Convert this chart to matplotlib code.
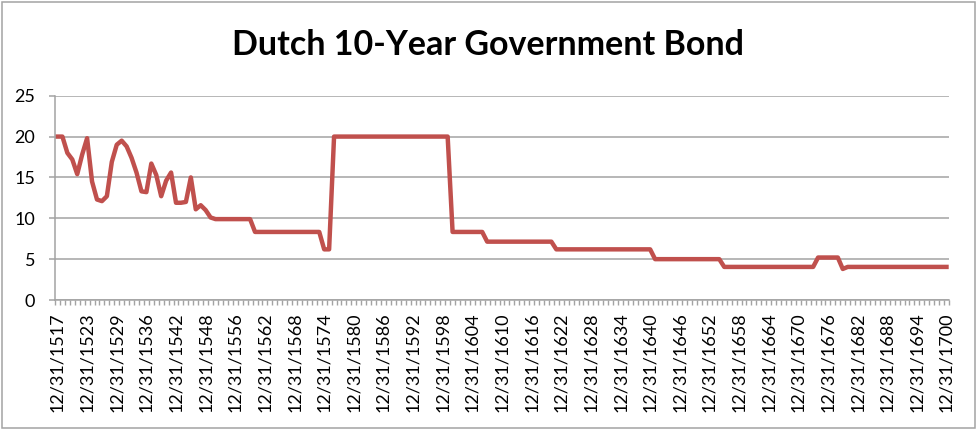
#!/usr/bin/env python3

import numpy as np
import matplotlib
matplotlib.use("Agg")
import matplotlib.pyplot as plt
from matplotlib.patches import Rectangle

## categories: year-end dates (a few early years are missing from the series)
years = (list(range(1517, 1530)) + list(range(1531, 1549))
         + [1549, 1551, 1552, 1554, 1555] + list(range(1556, 1701)))
dates = ["12/31/%d" % y for y in years]

## yield in percent, one value per date
yields = [
    20.0, 20.0, 18.0, 17.2, 15.4, 17.8, 19.8, 14.5, 12.3, 12.1,
    12.7, 16.9, 19.0, 19.5, 18.8, 17.4, 15.6, 13.3, 13.2, 16.7,
    15.3, 12.7, 14.6, 15.6, 11.9, 11.9, 12.0, 15.0, 11.1, 11.6,
    11.0, 10.1, 9.9, 9.9, 9.9, 9.9, 9.9, 9.9, 9.9, 9.9,
    8.33, 8.33, 8.33, 8.33, 8.33, 8.33, 8.33, 8.33, 8.33, 8.33,
    8.33, 8.33, 8.33, 8.33, 6.2, 6.2, 20.0, 20.0, 20.0, 20.0,
    20.0, 20.0, 20.0, 20.0, 20.0, 20.0, 20.0, 20.0, 20.0, 20.0,
    20.0, 20.0, 20.0, 20.0, 20.0, 20.0, 20.0, 20.0, 20.0, 20.0,
    8.33, 8.33, 8.33, 8.33, 8.33, 8.33, 8.33, 7.14, 7.14, 7.14,
    7.14, 7.14, 7.14, 7.14, 7.14, 7.14, 7.14, 7.14, 7.14, 7.14,
    7.14, 6.2, 6.2, 6.2, 6.2, 6.2, 6.2, 6.2, 6.2, 6.2,
    6.2, 6.2, 6.2, 6.2, 6.2, 6.2, 6.2, 6.2, 6.2, 6.2,
    6.2, 5.0, 5.0, 5.0, 5.0, 5.0, 5.0, 5.0, 5.0, 5.0,
    5.0, 5.0, 5.0, 5.0, 5.0, 4.05, 4.05, 4.05, 4.05, 4.05,
    4.05, 4.05, 4.05, 4.05, 4.05, 4.05, 4.05, 4.05, 4.05, 4.05,
    4.05, 4.05, 4.05, 4.05, 5.2, 5.2, 5.2, 5.2, 5.2, 3.8,
    4.05, 4.05, 4.05, 4.05, 4.05, 4.05, 4.05, 4.05, 4.05, 4.05,
    4.05, 4.05, 4.05, 4.05, 4.05, 4.05, 4.05, 4.05, 4.05, 4.05,
    4.05,
]

title = "Dutch 10-Year Government Bond"
ytick_values = [0, 5, 10, 15, 20, 25]
label_every = 6

plt.rcParams["font.family"] = ["Lato", "DejaVu Sans"]
grey = "#a3a3a3"

fig = plt.figure(figsize=(9.77, 4.30), dpi=100)
ax = fig.add_axes([0.0563, 0.3023, 0.9150, 0.4751])

x = np.arange(len(dates))
ax.plot(x, yields, color="#c0504d", lw=3.2, solid_joinstyle="round")

ax.set_xlim(-0.5, len(dates) - 0.5)
ax.set_ylim(0, 25)
ax.set_yticks(ytick_values)
ax.grid(axis="y", color=grey, lw=1.1)
ax.set_axisbelow(True)

## labels every 6th category, tick marks between every category
ax.set_xticks(x[::label_every])
ax.set_xticklabels(dates[::label_every], rotation=90)
ax.set_xticks(np.arange(len(dates) + 1) - 0.5, minor=True)
ax.tick_params(axis="x", which="major", length=0, pad=9, labelsize=13)
ax.tick_params(axis="x", which="minor", length=3.6, width=1.0, color=grey)
ax.tick_params(axis="y", length=4.3, width=1.1, color=grey, pad=10, labelsize=13)

for s in ["top", "right"]:
    ax.spines[s].set_visible(False)
for s in ["left", "bottom"]:
    ax.spines[s].set_color(grey)
    ax.spines[s].set_linewidth(1.1)

fig.text(0.5, 0.895, title, ha="center", va="center", fontsize=24.5, weight="bold")

## chart area border
fig.patches.append(Rectangle((0.002, 0.004), 0.996, 0.992, transform=fig.transFigure,
                             fill=False, ec=grey, lw=1.1))

fig.savefig("out.png", dpi=100)
